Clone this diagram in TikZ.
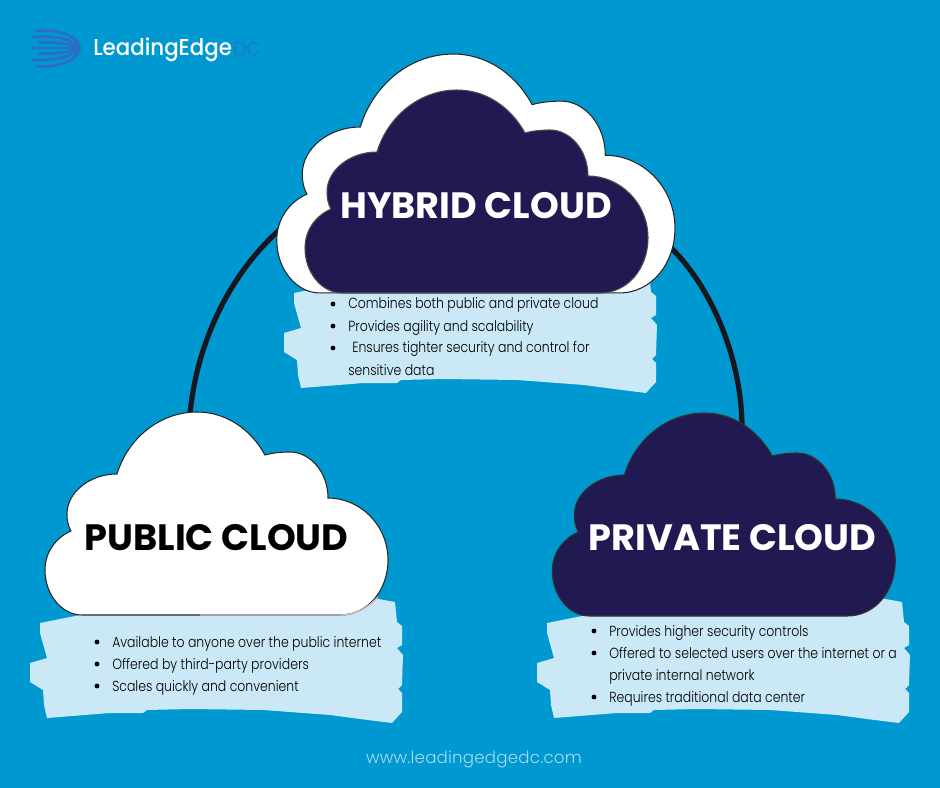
\documentclass[tikz,border=0pt]{standalone}
\usepackage{fontspec}
\setmainfont{Poppins}
\newfontfamily\headfont[FakeStretch=1.0]{Poppins Bold}
\newfontfamily\bodyfont[FakeStretch=0.85]{Poppins Light}
\newfontfamily\webfont[LetterSpace=1.2]{Poppins Light}
\newfontfamily\logofont[FakeStretch=0.93]{Poppins Medium}
\newfontfamily\dcfont{Poppins Light}
\definecolor{bgblue}{HTML}{0098D1}
\definecolor{navy}{HTML}{211A52}
\definecolor{brush}{HTML}{CAE8F5}
\definecolor{arcdark}{HTML}{17181F}
\definecolor{logoblue}{HTML}{2A6FC6}
\definecolor{webcol}{HTML}{A9DAEE}
\newcommand{\cloudoutline}{(82,615) -- (340,615)
 .. controls (368,615) and (388,590) .. (388,560)
 .. controls (388,525) and (360,498) .. (328,498)
 .. controls (328,472) and (310,452) .. (290,452)
 .. controls (281,452) and (272,453) .. (265,455)
 .. controls (250,428) and (225,412) .. (197,412)
 .. controls (160,412) and (128,438) .. (117,474)
 .. controls (90,474) and (67,492) .. (67,514)
 .. controls (67,520) and (68,526) .. (71,531)
 .. controls (55,538) and (45,553) .. (45,570)
 .. controls (45,595) and (62,615) .. (82,615) -- cycle}
\newcommand{\brushoutline}{(40,623) -- (80,615) -- (373,598) -- (395,602) -- (397,622) -- (402,626) -- (402,645) -- (397,648) -- (403,655) -- (402,685) -- (398,689) -- (402,693) -- (402,712) -- (392,723) -- (360,719) -- (330,715) -- (263,710) -- (190,709) -- (147,710) -- (143,713) -- (110,713) -- (47,718) -- (44,705) -- (43,690) -- (30,682) -- (30,663) -- (47,658) -- (40,633) -- cycle}
\tikzset{
 headtxt/.style={font=\headfont\fontsize{27.5}{30}\selectfont,anchor=base,inner sep=0pt},
 bodytxt/.style={font=\bodyfont\fontsize{11}{13}\selectfont,text=black,anchor=base west,inner sep=0pt},
 bullet/.style={circle,fill=black,inner sep=0pt,minimum size=3.6pt},
 arcline/.style={draw=arcdark,line width=3.9pt},
 logoline/.style={draw=logoblue,line width=2.1pt},
 rough/.style={draw=#1,line width=0.8pt}
}
\begin{document}
\begin{tikzpicture}[x=0.75pt,y=-0.75pt]
\useasboundingbox (0,0) rectangle (940,788);
\fill[bgblue] (0,0) rectangle (940,788);
% anchor points of the connectors
\coordinate (pubtop) at (190,414);
\coordinate (hybl) at (284,226);
\coordinate (hybr) at (666,243);
\coordinate (privtop) at (742,428);
\draw[arcline] (pubtop) .. controls (197,340) and (232,270) .. (hybl);
\draw[arcline] (hybr) .. controls (712,285) and (742,360) .. (privtop);
% brushes
\fill[brush] \brushoutline;
\begin{scope}[shift={(254,-330)}]\fill[brush] \brushoutline;\end{scope}
\begin{scope}[shift={(507,0)}]\fill[brush] \brushoutline;\end{scope}
% clouds
\filldraw[fill=white,rough=black!85] \cloudoutline;
\draw[white!75!black,line width=1pt] (200,615) -- (340,615) .. controls (355,615) and (368,608) .. (378,597);
\begin{scope}[shift={(507.3,1)}]\filldraw[fill=navy,rough=black!80] \cloudoutline;\end{scope}
\begin{scope}[shift={(224.5,-430.9)},xscale=1.161,yscale=1.177]\filldraw[fill=white,rough=black!85] \cloudoutline;\end{scope}
\begin{scope}[shift={(260,-322)},yscale=1.0]\filldraw[fill=navy,rough=black!70] \cloudoutline;\end{scope}
% titles
\node[headtxt,text=white] (hybridt) at (476,219) {HYBRID CLOUD};
\node[headtxt,text=black] (publict) at (216.5,550) {PUBLIC CLOUD};
\node[headtxt,text=white] (privatet) at (732.5,550) {PRIVATE CLOUD};
% hybrid list
\node[bullet] (hb1) at (333,304) {};
\node[bodytxt] (h1) at (348,309) {Combines both public and private cloud};
\node[bullet] (hb2) at (333,326) {};
\node[bodytxt] (h2) at (348,331) {Provides agility and scalability};
\node[bullet] (hb3) at (333,348) {};
\node[bodytxt] (h3) at (352,353) {Ensures tighter security and control for};
\node[bodytxt] (h4) at (348,375) {sensitive data};
% public list
\node[bullet] (pb1) at (97,642) {};
\node[bodytxt] (p1) at (112,647) {Available to anyone over the public internet};
\node[bullet] (pb2) at (97,664) {};
\node[bodytxt] (p2) at (112,669) {Offered by third-party providers};
\node[bullet] (pb3) at (97,686) {};
\node[bodytxt] (p3) at (112,691) {Scales quickly and convenient};
% private list
\node[bullet] (vb1) at (594,631) {};
\node[bodytxt] (v1) at (609,636) {Provides higher security controls};
\node[bullet] (vb2) at (594,653) {};
\node[bodytxt] (v2) at (609,658) {Offered to selected users over the internet or a};
\node[bodytxt] (v3) at (609,680) {private internal network};
\node[bullet] (vb3) at (594,697) {};
\node[bodytxt] (v4) at (609,702) {Requires traditional data center};
% website
\node[font=\webfont\fontsize{12.5}{14}\selectfont,text=webcol,inner sep=0pt,anchor=base] (web) at (474,763) {www.leadingedgedc.com};
% logo
\coordinate (lg) at (80,48);
\draw[logoline] (36,31) .. controls (60,29) and (78,36) .. (lg);
\draw[logoline] (32,37) .. controls (58,35) and (74,40) .. (lg);
\draw[logoline] (38,42) -- (60,43) .. controls (68,44) and (76,46) .. (lg);
\draw[logoline] (32,48) -- (lg);
\draw[logoline] (38,54) -- (60,53) .. controls (68,52) and (76,50) .. (lg);
\draw[logoline] (32,60) .. controls (58,61) and (74,56) .. (lg);
\draw[logoline] (36,66) .. controls (60,68) and (78,60) .. (lg);
\node[font=\logofont\fontsize{17.2}{20}\selectfont,text=white,anchor=base west,inner sep=0pt] (lname) at (93,56) {LeadingEdge};
\node[font=\dcfont\fontsize{14}{16}\selectfont,text=logoblue,anchor=base west,inner sep=0pt] (ldc) at (233,56) {DC};
\end{tikzpicture}
\end{document}
